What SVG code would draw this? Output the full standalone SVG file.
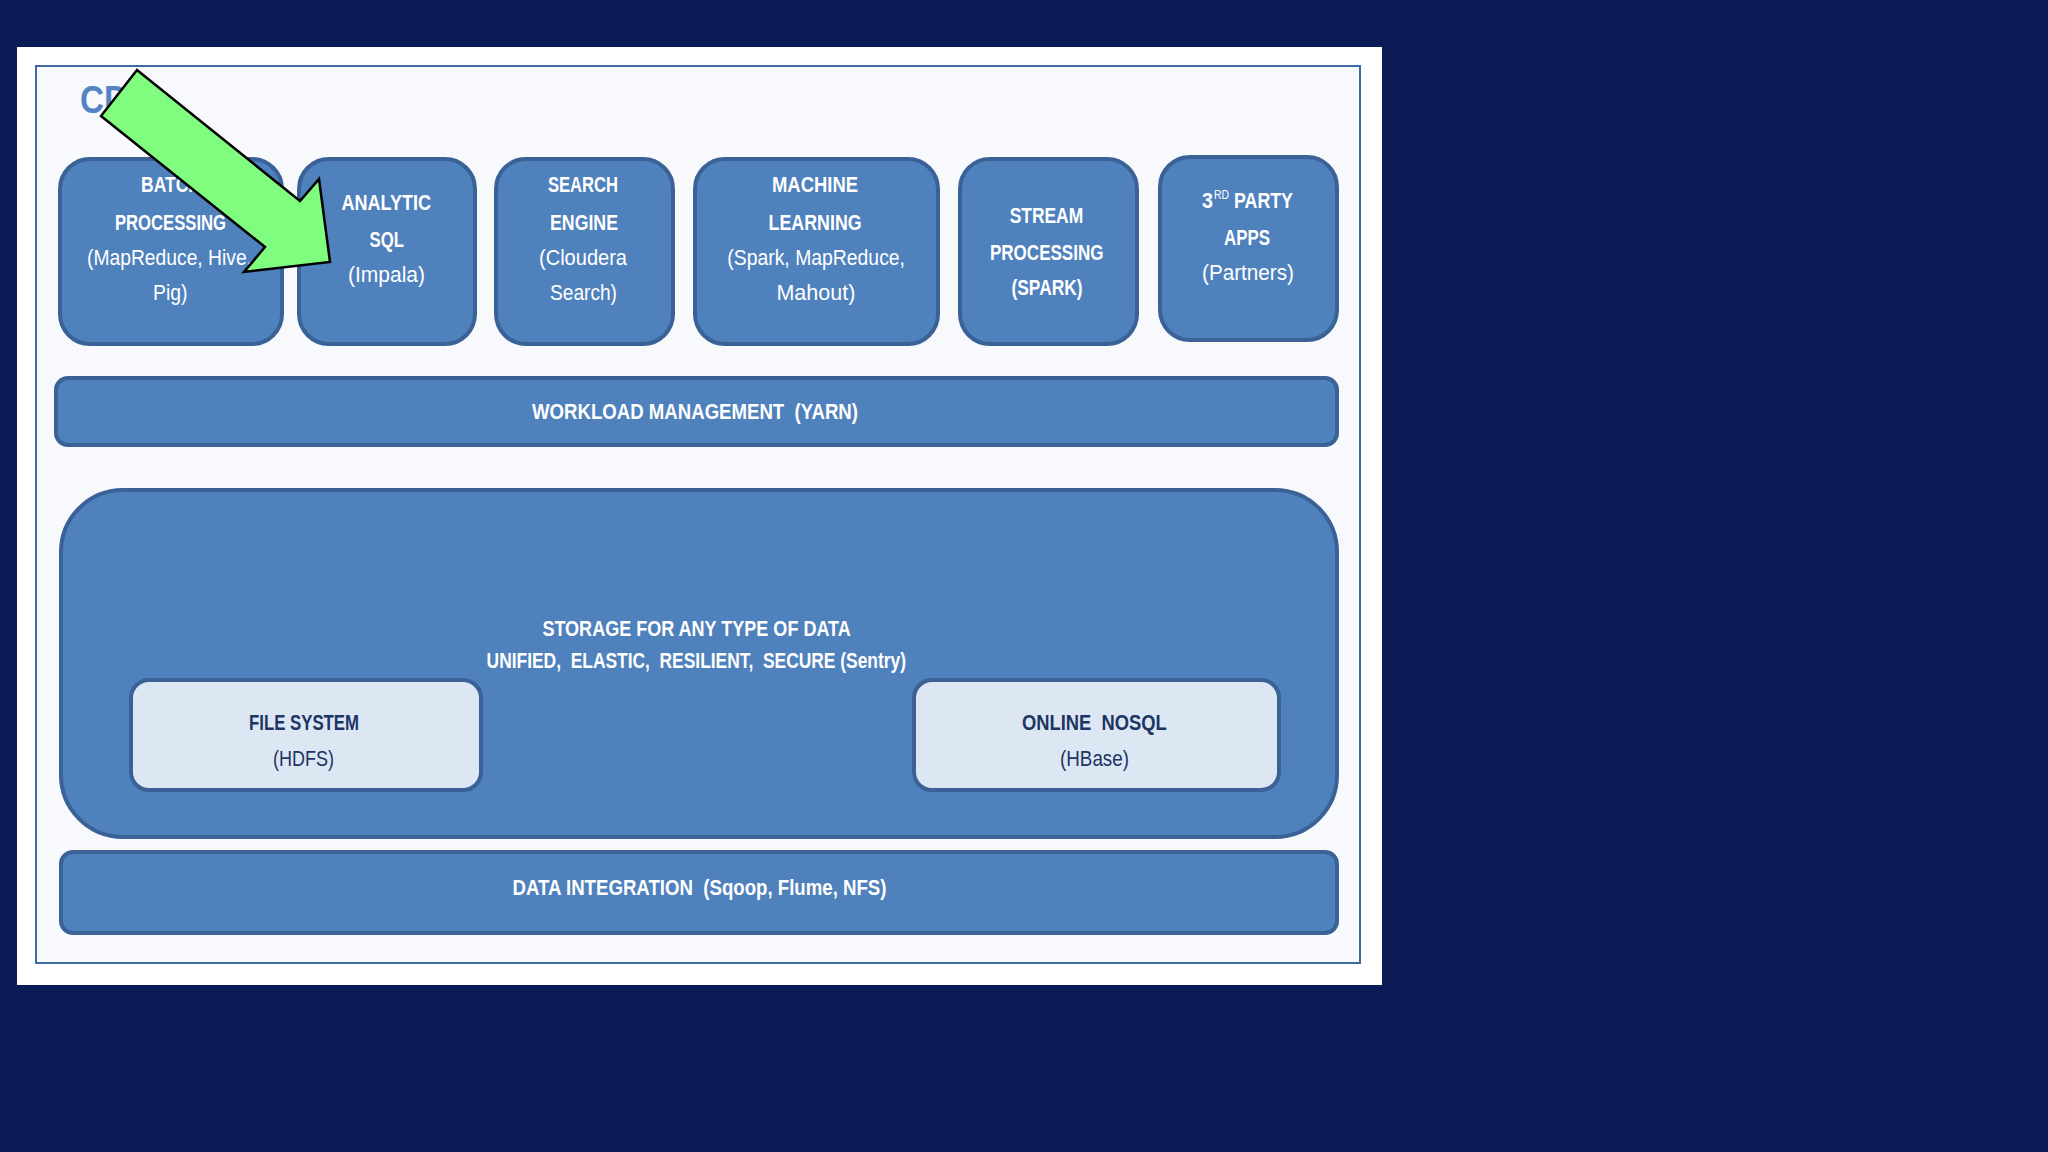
<svg xmlns="http://www.w3.org/2000/svg" width="2048" height="1152" viewBox="0 0 2048 1152">
<style>
.bg{fill:#0a1b55}
.blk{fill:#4f81bd;stroke:#3a6296;stroke-width:4}
.lite{fill:#dde7f3;stroke:#3a6296;stroke-width:4}
.t{font-family:"Liberation Sans",Arial,sans-serif;fill:#ffffff}
.b{font-weight:bold;font-size:22px}
.r{font-size:22px}
.dk{fill:#1c3563}
</style>
<rect class="bg" x="0" y="0" width="2048" height="1152"/>
<rect x="17" y="47" width="1365" height="938" fill="#ffffff"/>
<rect x="36" y="66" width="1324" height="897" fill="#f7f9fc" stroke="#3e6aa4" stroke-width="2"/>
<text x="80" y="113" font-family="Liberation Sans,Arial,sans-serif" font-weight="bold" font-size="39" fill="#5383c2" textLength="48" lengthAdjust="spacingAndGlyphs">CD</text>

<g id="batch-processing">
<rect class="blk" x="60" y="159" width="222" height="185" rx="30"/>
<text class="t b" x="141" y="192" textLength="60" lengthAdjust="spacingAndGlyphs">BATCH</text>
<text class="t b" x="115" y="230" textLength="111" lengthAdjust="spacingAndGlyphs">PROCESSING</text>
<text class="t r" x="87" y="265" textLength="165" lengthAdjust="spacingAndGlyphs">(MapReduce, Hive,</text>
<text class="t r" x="153" y="300" textLength="34.5" lengthAdjust="spacingAndGlyphs">Pig)</text>
</g>
<g id="analytic-sql">
<rect class="blk" x="299" y="159" width="176" height="185" rx="30"/>
<text class="t b" x="341.5" y="210" textLength="89.5" lengthAdjust="spacingAndGlyphs">ANALYTIC</text>
<text class="t b" x="369.6" y="247" textLength="34.4" lengthAdjust="spacingAndGlyphs">SQL</text>
<text class="t r" x="348" y="282" textLength="77" lengthAdjust="spacingAndGlyphs">(Impala)</text>
</g>
<g id="search-engine">
<rect class="blk" x="496" y="159" width="177" height="185" rx="30"/>
<text class="t b" x="548" y="192" textLength="70" lengthAdjust="spacingAndGlyphs">SEARCH</text>
<text class="t b" x="550" y="230" textLength="68" lengthAdjust="spacingAndGlyphs">ENGINE</text>
<text class="t r" x="539" y="265" textLength="88" lengthAdjust="spacingAndGlyphs">(Cloudera</text>
<text class="t r" x="550" y="300" textLength="67" lengthAdjust="spacingAndGlyphs">Search)</text>
</g>
<g id="machine-learning">
<rect class="blk" x="695" y="159" width="243" height="185" rx="30"/>
<text class="t b" x="772" y="192" textLength="86" lengthAdjust="spacingAndGlyphs">MACHINE</text>
<text class="t b" x="768.6" y="230" textLength="93" lengthAdjust="spacingAndGlyphs">LEARNING</text>
<text class="t r" x="727.3" y="265" textLength="177.7" lengthAdjust="spacingAndGlyphs">(Spark, MapReduce,</text>
<text class="t r" x="776.4" y="300" textLength="79" lengthAdjust="spacingAndGlyphs">Mahout)</text>
</g>
<g id="stream-processing">
<rect class="blk" x="960" y="159" width="177" height="185" rx="30"/>
<text class="t b" x="1009.7" y="223" textLength="73.5" lengthAdjust="spacingAndGlyphs">STREAM</text>
<text class="t b" x="990" y="260" textLength="113.4" lengthAdjust="spacingAndGlyphs">PROCESSING</text>
<text class="t b" x="1011.5" y="295" textLength="71" lengthAdjust="spacingAndGlyphs">(SPARK)</text>
</g>
<g id="third-party-apps">
<rect class="blk" x="1160" y="157" width="177" height="183" rx="30"/>
<text class="t b" x="1202" y="208" textLength="11" lengthAdjust="spacingAndGlyphs">3</text>
<text class="t" x="1214" y="199" font-size="13" textLength="15" lengthAdjust="spacingAndGlyphs">RD</text>
<text class="t b" x="1234" y="208" textLength="59" lengthAdjust="spacingAndGlyphs">PARTY</text>
<text class="t b" x="1224" y="245" textLength="46" lengthAdjust="spacingAndGlyphs">APPS</text>
<text class="t r" x="1202" y="280" textLength="92" lengthAdjust="spacingAndGlyphs">(Partners)</text>
</g>

<g id="workload-management">
<rect class="blk" x="56" y="378" width="1281" height="67" rx="12"/>
<text class="t b" x="532" y="419" textLength="326" lengthAdjust="spacingAndGlyphs" xml:space="preserve">WORKLOAD MANAGEMENT  (YARN)</text>
</g>

<g id="storage">
<rect class="blk" x="61" y="490" width="1276" height="347" rx="62"/>
<text class="t b" x="542.4" y="636" textLength="308.4" lengthAdjust="spacingAndGlyphs">STORAGE FOR ANY TYPE OF DATA</text>
<text class="t b" x="486.6" y="668" textLength="419.4" lengthAdjust="spacingAndGlyphs" xml:space="preserve">UNIFIED,  ELASTIC,  RESILIENT,  SECURE (Sentry)</text>
</g>
<g id="file-system">
<rect class="lite" x="131" y="680" width="350" height="110" rx="18"/>
<text class="t b dk" x="249" y="730" textLength="110" lengthAdjust="spacingAndGlyphs">FILE SYSTEM</text>
<text class="t r dk" x="273" y="766" textLength="61" lengthAdjust="spacingAndGlyphs">(HDFS)</text>
</g>
<g id="online-nosql">
<rect class="lite" x="914" y="680" width="365" height="110" rx="18"/>
<text class="t b dk" x="1022" y="730" textLength="144.7" lengthAdjust="spacingAndGlyphs" xml:space="preserve">ONLINE  NOSQL</text>
<text class="t r dk" x="1060" y="766" textLength="69" lengthAdjust="spacingAndGlyphs">(HBase)</text>
</g>

<g id="data-integration">
<rect class="blk" x="61" y="852" width="1276" height="81" rx="12"/>
<text class="t b" x="512.5" y="895" textLength="374" lengthAdjust="spacingAndGlyphs" xml:space="preserve">DATA INTEGRATION  (Sqoop, Flume, NFS)</text>
</g>

<g id="connectors">
<polygon points="137,70 101,116 265,247 244,272 330,262 319,179 300,201" fill="#80fc7e" stroke="#000000" stroke-width="2.5" stroke-linejoin="miter"/>
</g>
</svg>
